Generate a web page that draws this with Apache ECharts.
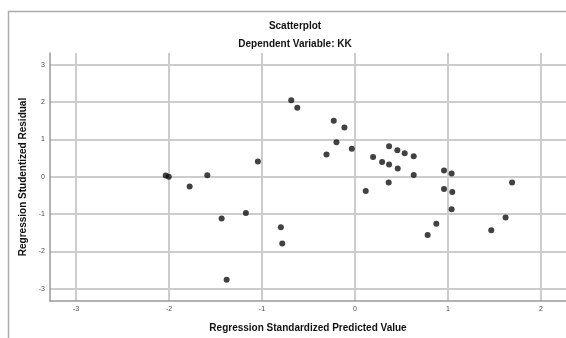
<!DOCTYPE html>
<html>
<head>
<meta charset="utf-8">
<script src="https://cdn.jsdelivr.net/npm/echarts@6/dist/echarts.min.js"></script>
<style>
    html, body { margin: 0; padding: 0; background: #fff; }
    #scatter { width: 566px; height: 338px; }
</style>
</head>
<body>
<div id="scatter"></div>
<script>
var predicted = [
    -0.685, -0.62, -0.228, -0.113, -0.199, -0.034, -0.306, 0.195, 0.116,
    -2.035, -2.003, -1.778, -1.588, -1.044, -1.434, -1.173, -0.797, -0.782, -1.38,
    0.292, 0.367, 0.367, 0.456, 0.535, 0.632, 0.46, 0.632, 0.363,
    0.958, 1.04, 0.958, 1.047, 1.04, 0.875, 0.782, 1.466, 1.62, 1.69
];
var residual = [
    2.05, 1.85, 1.50, 1.32, 0.93, 0.75, 0.60, 0.53, -0.38,
    0.035, 0.0, -0.26, 0.045, 0.41, -1.12, -0.97, -1.35, -1.79, -2.76,
    0.40, 0.33, 0.82, 0.71, 0.63, 0.55, 0.22, 0.05, -0.15,
    0.17, 0.09, -0.33, -0.41, -0.87, -1.26, -1.56, -1.43, -1.09, -0.15
];
var xTicks = [-3, -2, -1, 0, 1, 2];
var yTicks = [-3, -2, -1, 0, 1, 2, 3];

var points = predicted.map(function (x, i) {
    return [x, residual[i]];
});

var chart = echarts.init(document.getElementById('scatter'));

var labelFont = {
    fontFamily: 'Liberation Sans',
    fontSize: 7,
    color: '#444'
};
var nameFont = {
    fontFamily: 'Liberation Sans',
    fontSize: 10,
    fontWeight: 'bold',
    color: '#111'
};

var option = {
    animation: false,
    title: {
        text: 'Scatterplot',
        subtext: 'Dependent Variable: KK',
        left: 290,
        top: 16,
        textAlign: 'center',
        itemGap: 8,
        textStyle: nameFont,
        subtextStyle: nameFont
    },
    graphic: [
        {
            type: 'rect',
            shape: { x: 8.5, y: 11.5, width: 700, height: 500 },
            style: { fill: 'none', stroke: '#aaa', lineWidth: 1.5 },
            z: -1
        }
    ],
    grid: {
        left: 50,
        right: 0,
        top: 53,
        bottom: 36
    },
    xAxis: {
        type: 'value',
        min: -3.28,
        max: 2.27,
        name: 'Regression Standardized Predicted Value',
        nameLocation: 'middle',
        nameGap: 22,
        nameTextStyle: nameFont,
        axisLine: { show: true, onZero: false, lineStyle: { color: '#999', width: 1.5 } },
        axisTick: { show: false, customValues: xTicks },
        axisLabel: Object.assign({ customValues: xTicks, margin: 5 }, labelFont),
        splitLine: { show: true, lineStyle: { color: '#ccc', width: 2 } }
    },
    yAxis: {
        type: 'value',
        min: -3.33,
        max: 3.32,
        name: 'Regression Studentized Residual',
        nameLocation: 'middle',
        nameGap: 17,
        nameTextStyle: nameFont,
        axisLine: { show: true, onZero: false, lineStyle: { color: '#999', width: 1.5 } },
        axisTick: { show: false, customValues: yTicks },
        axisLabel: Object.assign({ customValues: yTicks, margin: 5 }, labelFont),
        splitLine: { show: true, lineStyle: { color: '#ccc', width: 2 } }
    },
    series: [
        {
            type: 'scatter',
            data: points,
            symbolSize: 6,
            itemStyle: { color: '#111' }
        }
    ]
};

chart.setOption(option);
</script>
</body>
</html>
